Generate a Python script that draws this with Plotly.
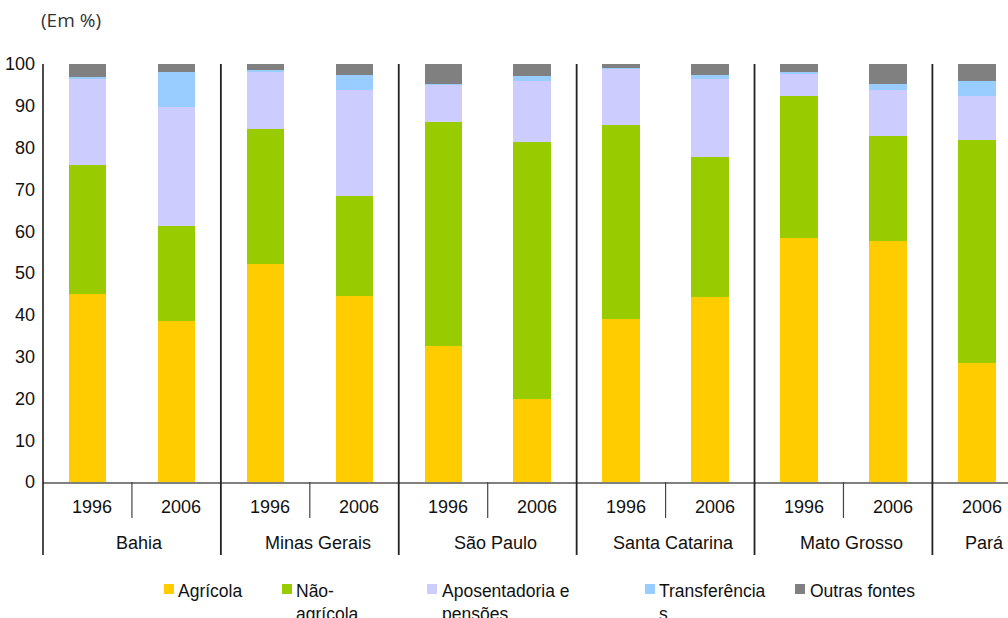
import plotly.graph_objects as go

# Composition of household income by source, per state and year (in %)
states = ["Bahia", "Bahia", "Minas Gerais", "Minas Gerais", "São Paulo", "São Paulo",
          "Santa Catarina", "Santa Catarina", "Mato Grosso", "Mato Grosso", "Pará"]
years = ["1996", "2006", "1996", "2006", "1996", "2006",
         "1996", "2006", "1996", "2006", "2006"]

agricola = [45.0, 38.5, 52.2, 44.5, 32.5, 19.9, 39.0, 44.3, 58.4, 57.7, 28.5]
nao_agricola = [30.8, 22.7, 32.2, 23.9, 53.6, 61.4, 46.4, 33.5, 33.9, 25.1, 53.2]
aposentadoria = [20.7, 28.5, 13.8, 25.4, 8.9, 14.6, 13.6, 18.6, 5.5, 11.0, 10.7]
transferencias = [0.4, 8.4, 0.3, 3.6, 0.3, 1.2, 0.1, 1.0, 0.3, 1.4, 3.5]
outras_fontes = [3.1, 1.9, 1.5, 2.6, 4.7, 2.9, 0.9, 2.6, 1.9, 4.8, 4.1]

y_ticks = [0, 10, 20, 30, 40, 50, 60, 70, 80, 90, 100]

series = [
    ("Agrícola", agricola, "#FFCC00"),
    ("Não-<br>agrícola", nao_agricola, "#99CC00"),
    ("Aposentadoria e<br>pensões", aposentadoria, "#CCCCFF"),
    ("Transferência<br>s", transferencias, "#99CCFF"),
    ("Outras fontes", outras_fontes, "#808080"),
]

W, H = 1008, 618
ML, MT, MB = 43, 64, 136
PW, PH = W - ML, H - MT - MB
FONT = "Liberation Sans, Arial, sans-serif"
TXT = "#111111"

xpos = list(range(len(states)))


def px_x(px):
    return (px - ML) / PW


def px_y(py):
    return (MT + PH - py) / PH


fig = go.Figure()
for name, vals, color in series:
    fig.add_trace(go.Bar(
        x=xpos, y=vals, name=name, width=0.42,
        marker=dict(color=color, line=dict(width=0)),
        showlegend=False,
    ))

shapes = []
annotations = []

# left axis line extended through the category label area
shapes.append(dict(type="line", xref="paper", yref="paper", x0=0, x1=0,
                   y0=px_y(555), y1=1, line=dict(color="#111111", width=1.5)))

# group separators and year separators
groups = []
for i, s in enumerate(states):
    if not groups or groups[-1][0] != s:
        groups.append([s, i, i])
    else:
        groups[-1][2] = i

for gi, (s, a, b) in enumerate(groups):
    if gi < len(groups) - 1:
        shapes.append(dict(type="line", xref="x", yref="paper", x0=b + 0.5, x1=b + 0.5,
                           y0=px_y(555), y1=1, line=dict(color="#222222", width=1.8)))
    for k in range(a, b):
        shapes.append(dict(type="line", xref="x", yref="paper", x0=k + 0.5, x1=k + 0.5,
                           y0=px_y(518), y1=0, line=dict(color="#444444", width=1.2)))
    annotations.append(dict(x=(a + b) / 2, y=px_y(543), xref="x", yref="paper",
                            yanchor="middle", text=s, showarrow=False, xshift=8,
                            font=dict(family=FONT, size=18, color=TXT)))

for i, yr in enumerate(years):
    annotations.append(dict(x=i, y=px_y(507), xref="x", yref="paper",
                            yanchor="middle", text=yr, showarrow=False, xshift=5,
                            font=dict(family=FONT, size=18, color=TXT)))

# unit label
annotations.append(dict(x=px_x(39), y=px_y(20), xref="paper", yref="paper",
                        xanchor="left", yanchor="middle", text="(Em %)", showarrow=False,
                        font=dict(family="Open Sans, sans-serif", size=19, color="#333333")))

# legend drawn below the chart
legend_slots = [(164, 176), (282, 294), (427, 440), (645, 657), (795, 808)]
for (name, vals, color), (mx, tx) in zip(series, legend_slots):
    shapes.append(dict(type="rect", xref="paper", yref="paper",
                       x0=px_x(mx), x1=px_x(mx + 10), y0=px_y(594), y1=px_y(584),
                       fillcolor=color, line=dict(width=0)))
    annotations.append(dict(x=px_x(tx), y=px_y(579), xref="paper", yref="paper",
                            xanchor="left", yanchor="top", align="left",
                            text=name, showarrow=False,
                            font=dict(family=FONT, size=17.5, color=TXT)))

fig.update_layout(
    width=W, height=H,
    margin=dict(l=ML, r=0, t=MT, b=MB),
    barmode="stack",
    plot_bgcolor="white", paper_bgcolor="white",
    xaxis=dict(range=[-0.5, 10.35], showticklabels=False, showgrid=False,
               zeroline=False, ticks="", showline=True, linecolor="#808080",
               linewidth=2, fixedrange=True),
    yaxis=dict(range=[0, 100], tickvals=y_ticks, showgrid=False, zeroline=False,
               ticks="", showline=False, ticklabelstandoff=7,
               tickfont=dict(family=FONT, size=18, color=TXT)),
    shapes=shapes,
    annotations=annotations,
    showlegend=False,
)

fig.write_html("out.html")
